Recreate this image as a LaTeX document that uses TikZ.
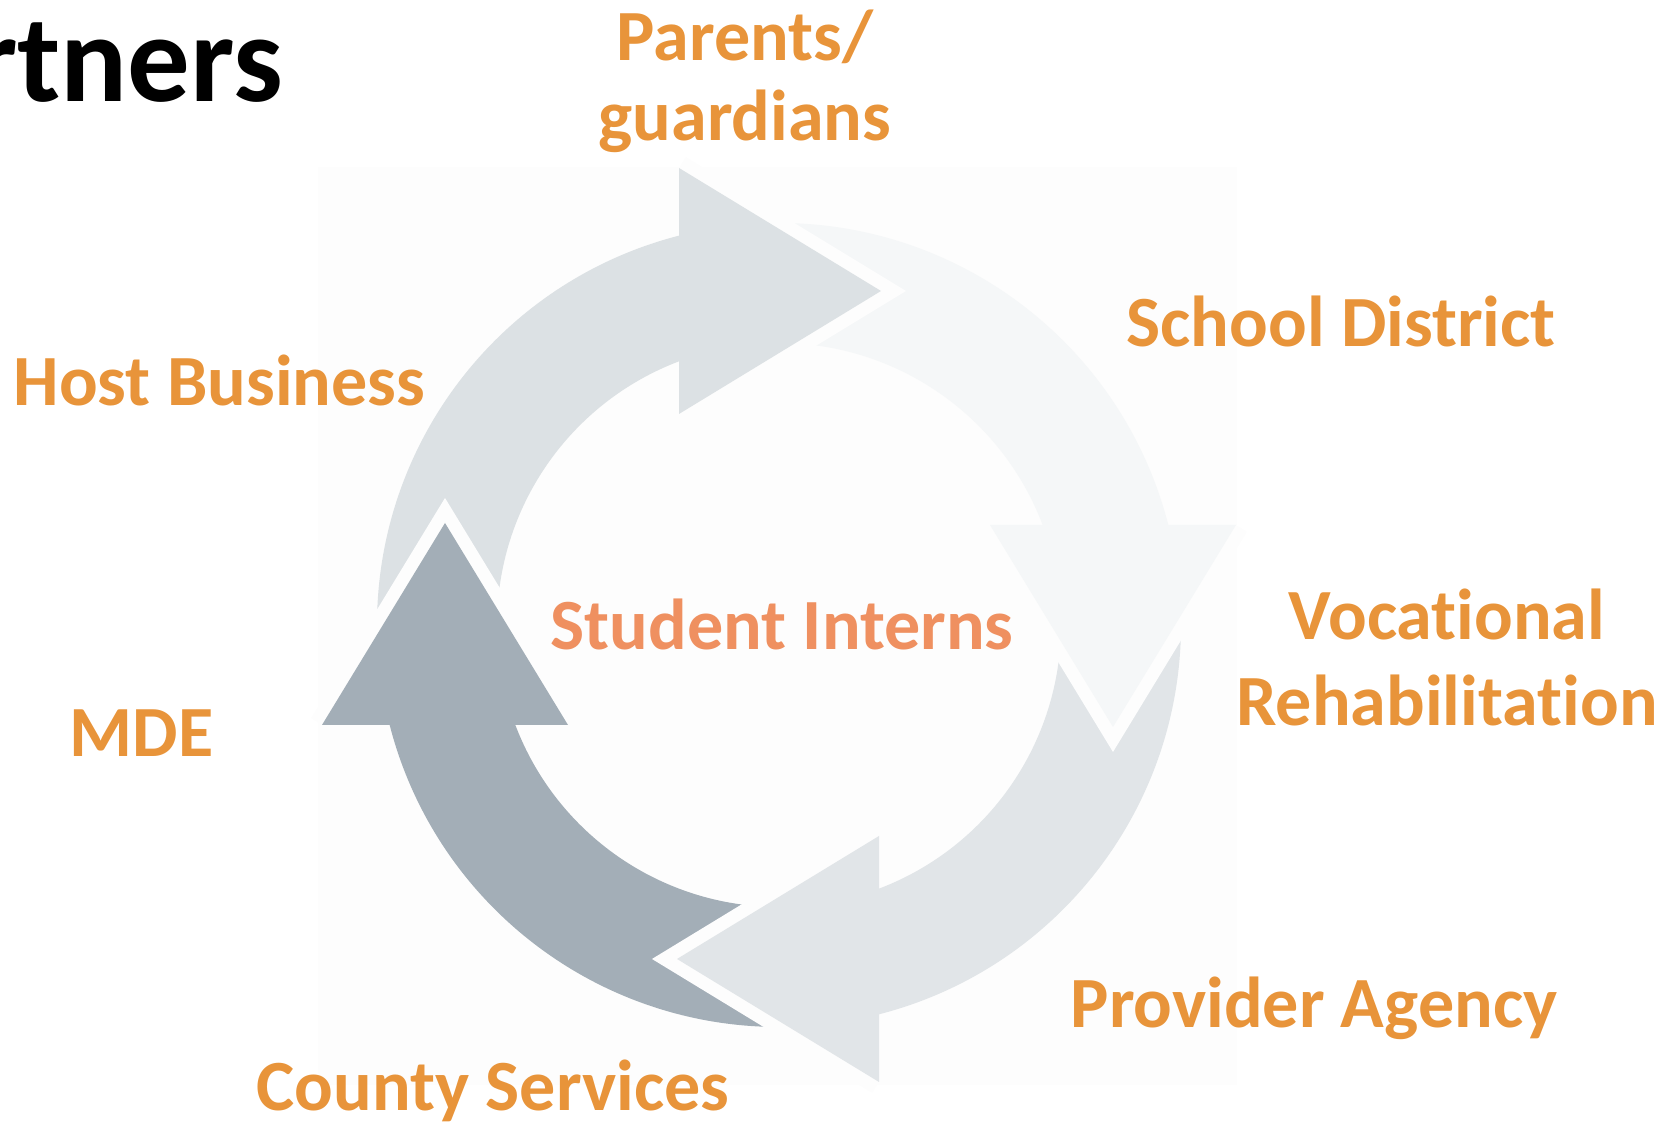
\documentclass[tikz,border=0pt]{standalone}
\usepackage{fontspec}
\setmainfont{Carlito}[Ligatures=NoCommon]
\usetikzlibrary{calc}
\definecolor{CycleA}{HTML}{DCE1E4}
\definecolor{CycleB}{HTML}{F5F7F8}
\definecolor{CycleC}{HTML}{E1E5E8}
\definecolor{CycleD}{HTML}{A3AEB7}
\definecolor{PartnerOrange}{HTML}{E8943A}
\definecolor{HubOrange}{HTML}{EF9060}
\definecolor{PanelGrey}{HTML}{FDFDFD}
\tikzset{
  partner/.style={font=\fontsize{20.5}{24.6}\selectfont\bfseries, text=PartnerOrange, inner sep=0pt},
  hub/.style={partner, text=HubOrange},
  cutline/.style={draw=PanelGrey, line width=0.26cm, line join=miter}
}

\begin{document}
\begin{tikzpicture}[x=0.01cm,y=0.01cm]
  \useasboundingbox (0,0) rectangle (1665,1125);
  \clip (0,0) rectangle (1665,1125);
  \fill[PanelGrey] (318,40) rectangle (1237,958);
  \begin{scope}[shift={(779,500)}]
    % bodies first, heads on top
    \foreach \rot/\col in {0/CycleA,-90/CycleB,-180/CycleC,-270/CycleD} {
      \fill[\col, rotate=\rot] (180:402) arc[start angle=180, end angle=104.4, radius=402]
        -- (110.8:282) arc[start angle=110.8, end angle=180, radius=282] -- cycle;
    }
    \foreach \rot/\col in {0/CycleA,-90/CycleB,-180/CycleC,-270/CycleD} {
      \draw[cutline, rotate=\rot] (-100,457) -- (102,334) -- (-100,211);
      \fill[\col, rotate=\rot] (-100,457) -- (102,334) -- (-100,211) -- cycle;
    }
  \end{scope}
  \node[font=\fontsize{35.5}{40}\selectfont\bfseries, anchor=base east, inner sep=0pt] (title) at (284,1023) {Partners};
  \node[partner, font=\fontsize{20.5}{22.9}\selectfont\bfseries, align=center, anchor=base] (parents) at (745,984) {Parents/\\guardians};
  \node[partner, anchor=base west] (school) at (1126,778) {School District};
  \node[partner, anchor=base west] (host) at (13,719.4) {Host Business};
  \node[hub, anchor=base west] (interns) at (550,475) {Student Interns};
  \node[partner, align=center, anchor=base] (vocational) at (1447,399.3) {Vocational\\Rehabilitation};
  \node[partner, anchor=base west] (mde) at (69,368) {MDE};
  \node[partner, anchor=base west] (provider) at (1070,97) {Provider Agency};
  \node[partner, anchor=base west] (county) at (256,14) {County Services};
\end{tikzpicture}
\end{document}
